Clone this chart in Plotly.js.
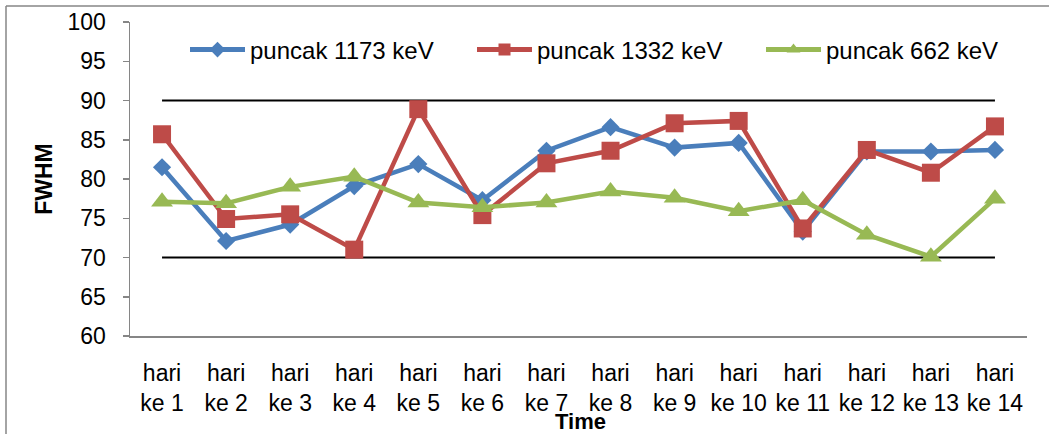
<!DOCTYPE html>
<html>
<head>
<meta charset="utf-8">
<script src="https://cdn.plot.ly/plotly-3.0.1.min.js"></script>
<style>html,body{margin:0;padding:0;background:#fff;}#chart{width:1049px;height:434px;}</style>
</head>
<body>
<div id="chart"></div>
<script>
var categories = ['hari ke 1','hari ke 2','hari ke 3','hari ke 4','hari ke 5','hari ke 6','hari ke 7','hari ke 8','hari ke 9','hari ke 10','hari ke 11','hari ke 12','hari ke 13','hari ke 14'];
var tickLabels = ['hari<br>ke 1','hari<br>ke 2','hari<br>ke 3','hari<br>ke 4','hari<br>ke 5','hari<br>ke 6','hari<br>ke 7','hari<br>ke 8','hari<br>ke 9','hari<br>ke 10','hari<br>ke 11','hari<br>ke 12','hari<br>ke 13','hari<br>ke 14'];
var seriesNames = ['puncak 1173 keV','puncak 1332 keV','puncak 662 keV'];
var peak1173 = [81.5, 72.1, 74.2, 79.1, 81.9, 77.3, 83.6, 86.6, 84.0, 84.6, 73.3, 83.5, 83.5, 83.7];
var peak1332 = [85.7, 74.9, 75.5, 71.0, 88.9, 75.4, 82.0, 83.6, 87.1, 87.4, 73.7, 83.7, 80.8, 86.7];
var peak662  = [77.1, 76.9, 79.0, 80.3, 77.0, 76.4, 77.0, 78.4, 77.6, 75.9, 77.3, 72.9, 70.1, 77.5];
var upperLimit = 90;
var lowerLimit = 70;
var yTicks = [60, 65, 70, 75, 80, 85, 90, 95, 100];
var xTitle = 'Time';
var yTitle = 'FWHM';

var FONT = 'Liberation Sans, Arial, sans-serif';
var PL = 130, PW = 897, PT = 22, PH = 314;
function px2x(p){ return (p - PL) / PW; }
function px2y(p){ return (PT + PH - p) / PH; }

function constArr(v){ return categories.map(function(){ return v; }); }

var traces = [
  {x: categories, y: constArr(upperLimit), type:'scatter', mode:'lines', line:{color:'#000', width:2}, showlegend:false, hoverinfo:'skip'},
  {x: categories, y: constArr(lowerLimit), type:'scatter', mode:'lines', line:{color:'#000', width:2}, showlegend:false, hoverinfo:'skip'},
  {x: categories, y: peak1173, name: seriesNames[0], type:'scatter', mode:'lines+markers', legend:'legend',
   line:{color:'#4A7EBB', width:4.5}, marker:{symbol:'diamond', size:14, color:'#4A7EBB'}},
  {x: categories, y: peak1332, name: seriesNames[1], type:'scatter', mode:'lines+markers', legend:'legend2',
   line:{color:'#BE4B48', width:4.5}, marker:{symbol:'square', size:18, color:'#BE4B48'}},
  {x: categories, y: peak662, name: seriesNames[2], type:'scatter', mode:'lines+markers', legend:'legend3',
   line:{color:'#98B954', width:4.5}, marker:{symbol:'triangle-up', size:19, color:'#98B954'}}
];

function legendAt(pxLeft){
  return {orientation:'h', x: px2x(pxLeft), xanchor:'left', y: px2y(50), yanchor:'middle',
          font:{family: FONT, size:24, color:'#000'}, itemwidth:55, itemsizing:'constant',
          bgcolor:'rgba(0,0,0,0)', borderwidth:0};
}

var layout = {
  width: 1049, height: 434,
  margin: {l:PL, r:1049-PL-PW, t:PT, b:434-PT-PH},
  paper_bgcolor:'#fff', plot_bgcolor:'#fff',
  font: {family: FONT, size: 23, color:'#000'},
  showlegend: true,
  legend: legendAt(185),
  legend2: legendAt(472),
  legend3: legendAt(761),
  xaxis: {type:'category', tickvals: categories, ticktext: tickLabels, showgrid:false, zeroline:false,
          showline:true, linecolor:'#868686', linewidth:1.5, ticks:'', range:[-0.5, 13.5],
          ticklabelstandoff: 16,
          tickfont:{family: FONT, size:23, color:'#000'}},
  yaxis: {range:[60,100], tickvals: yTicks, showgrid:false, zeroline:false, showline:true,
          linecolor:'#868686', linewidth:1.5, ticks:'outside', ticklen:6, tickcolor:'#868686', tickwidth:1.5,
          ticklabelstandoff: 12,
          tickfont:{family: FONT, size:23, color:'#000'},
          title:{text:'<b>' + yTitle + '</b>', font:{family: FONT, size:23, color:'#000'}, standoff:8}},
  annotations: [
    {text:'<b>' + xTitle + '</b>', xref:'paper', yref:'paper', x: px2x(580), y: px2y(421),
     xanchor:'center', yanchor:'middle', showarrow:false, font:{family: FONT, size:22, color:'#000'}}
  ],
  shapes: [
    {type:'line', xref:'paper', yref:'paper', x0:px2x(6), x1:px2x(1060), y0:px2y(6), y1:px2y(6), line:{color:'#868686', width:1.5}},
    {type:'line', xref:'paper', yref:'paper', x0:px2x(6), x1:px2x(6), y0:px2y(6), y1:px2y(440), line:{color:'#868686', width:1.5}}
  ],
  hovermode: false
};

Plotly.newPlot('chart', traces, layout, {displayModeBar:false, staticPlot:true});
</script>
</body>
</html>
